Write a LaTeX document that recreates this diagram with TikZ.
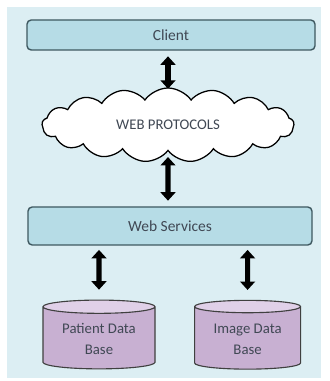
\documentclass[tikz,border=0pt]{standalone}
\usepackage{fontspec}
\setmainfont{Carlito}
\usetikzlibrary{shapes.geometric,shapes.symbols,arrows.meta}
\definecolor{bgblue}{RGB}{220,238,243}
\definecolor{boxfill}{RGB}{182,220,230}
\definecolor{boxline}{RGB}{62,88,96}
\definecolor{dbbody}{RGB}{200,176,210}
\definecolor{dbtop}{RGB}{224,208,232}
\definecolor{txt}{RGB}{64,72,84}
\begin{document}
\begin{tikzpicture}[
  layer/.style={draw=boxline,line width=1pt,fill=boxfill,rounded corners=3pt,font=\fontsize{11}{13}\selectfont,text=txt},
  dbase/.style={cylinder,shape border rotate=90,aspect=0.16,draw=black!75,line width=0.8pt,cylinder uses custom fill,cylinder body fill=dbbody,cylinder end fill=dbtop,align=center,font=\fontsize{10.5}{15}\selectfont,text=txt},
  link/.style={line width=3.6pt,{Triangle[width=10.5pt,length=6pt]}-{Triangle[width=10.5pt,length=6pt]}}
]
\useasboundingbox (0,0) rectangle (8.225,9.525);
\fill[bgblue] (0.175,0.075) rectangle (8.025,9.35);
\node[layer,minimum width=7.2cm,minimum height=0.75cm] (client) at (4.275,8.65) {Client};
\node[cloud,cloud puffs=17,cloud puff arc=110,cloud ignores aspect,draw=black,line width=0.9pt,fill=white,minimum width=6.3cm,minimum height=1.85cm,font=\fontsize{10.5}{12}\selectfont,text=txt] (web) at (4.2,6.4) {WEB PROTOCOLS};
\node[layer,minimum width=7.1cm,minimum height=0.95cm] (services) at (4.25,3.875) {Web Services};
\node[dbase,minimum width=2.8cm,minimum height=1.72cm] (patient) at (2.475,1.04) {Patient Data\\Base};
\node[dbase,minimum width=2.65cm,minimum height=1.72cm] (image) at (6.19,1.04) {Image Data\\Base};
\draw[link] ([yshift=-4pt]client.south -| web.center) -- ([yshift=-1pt]web.north);
\draw[link] ([yshift=-4pt]web.south) -- ([yshift=4pt]services.north -| web.center);
\draw[link] ([yshift=-3pt]services.south -| patient.center) -- ([yshift=7pt]patient.north);
\draw[link] ([yshift=-3pt]services.south -| image.center) -- ([yshift=7pt]image.north);
\end{tikzpicture}
\end{document}
